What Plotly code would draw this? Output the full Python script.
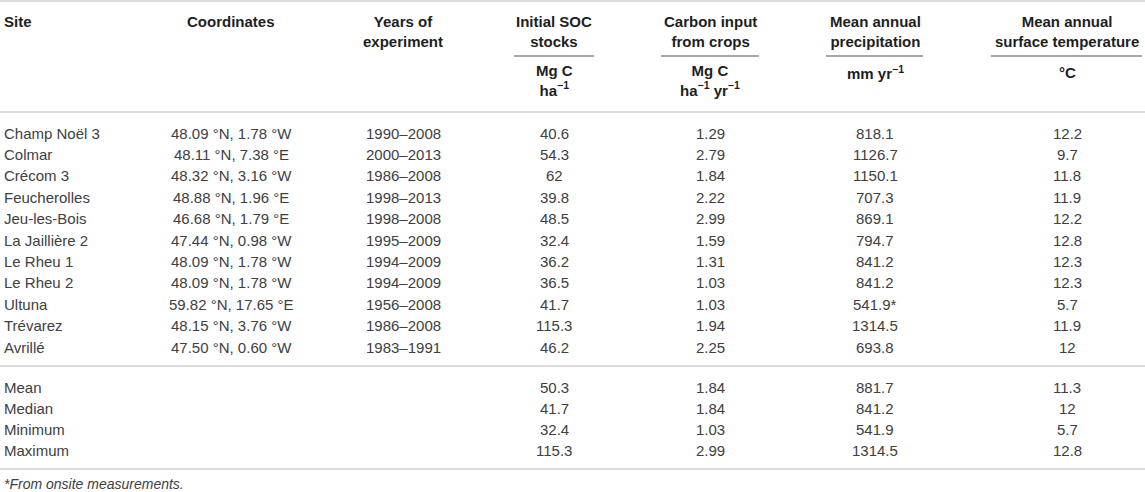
import plotly.graph_objects as go

# Site descriptions (table data)
sites = ["Champ Noël 3", "Colmar", "Crécom 3", "Feucherolles", "Jeu-les-Bois",
         "La Jaillière 2", "Le Rheu 1", "Le Rheu 2", "Ultuna", "Trévarez", "Avrillé"]
coords = ["48.09 °N, 1.78 °W", "48.11 °N, 7.38 °E", "48.32 °N, 3.16 °W",
          "48.88 °N, 1.96 °E", "46.68 °N, 1.79 °E", "47.44 °N, 0.98 °W",
          "48.09 °N, 1.78 °W", "48.09 °N, 1.78 °W", "59.82 °N, 17.65 °E",
          "48.15 °N, 3.76 °W", "47.50 °N, 0.60 °W"]
years = ["1990–2008", "2000–2013", "1986–2008", "1998–2013", "1998–2008",
         "1995–2009", "1994–2009", "1994–2009", "1956–2008", "1986–2008", "1983–1991"]
soc = [40.6, 54.3, 62, 39.8, 48.5, 32.4, 36.2, 36.5, 41.7, 115.3, 46.2]
carbon = [1.29, 2.79, 1.84, 2.22, 2.99, 1.59, 1.31, 1.03, 1.03, 1.94, 2.25]
precip = [818.1, 1126.7, 1150.1, 707.3, 869.1, 794.7, 841.2, 841.2, 541.9, 1314.5, 693.8]
precip_onsite = ["Ultuna"]
temp = [12.2, 9.7, 11.8, 11.9, 12.2, 12.8, 12.3, 12.3, 5.7, 11.9, 12]

stat_labels = ["Mean", "Median", "Minimum", "Maximum"]
stat_soc = [50.3, 41.7, 32.4, 115.3]
stat_carbon = [1.84, 1.84, 1.03, 2.99]
stat_precip = [881.7, 841.2, 541.9, 1314.5]
stat_temp = [11.3, 12, 5.7, 12.8]

headers = ["Site", "Coordinates", "Years of<br>experiment", "Initial SOC<br>stocks",
           "Carbon input<br>from crops", "Mean annual<br>precipitation",
           "Mean annual<br>surface temperature"]
units = ["", "", "", "Mg C<br>ha<sup>−1</sup>", "Mg C<br>ha<sup>−1</sup> yr<sup>−1</sup>",
         "mm yr<sup>−1</sup>", "°C"]
footnote = "*From onsite measurements."

# Layout (pixel space)
W, H = 1145, 492
FONT = "Liberation Sans, Arial, sans-serif"
TXT = "#404040"
HEAD = "#1e1e1e"
RULE = "#dcdcdc"
col_x = [2, 231, 403, 554, 710, 875, 1067]
underline_span = {3: (514, 594), 4: (661, 759), 5: (826, 923), 6: (991, 1142)}
row0, row_h = 133, 21.4
stat0, stat_h = 387, 21


def fmt(v):
    return f"{v:g}"


fig = go.Figure()
ann = []


def cell(x, y, text, col, bold=False, color=TXT, size=15, italic=False):
    left = col == 0
    t = f"<b>{text}</b>" if bold else text
    if italic:
        t = f"<i>{t}</i>"
    ann.append(dict(x=x, y=y, xref="x", yref="y", text=t, showarrow=False,
                    xanchor="left" if left else "center", yanchor="middle",
                    align="left" if left else "center",
                    font=dict(family=FONT, size=size, color=color)))


# header
for i, h in enumerate(headers):
    n = h.count("<br>")
    cell(col_x[i], 21 + 10.5 * n, h, i, bold=True, color=HEAD)
for i, u in enumerate(units):
    if u:
        n = u.count("<br>")
        cell(col_x[i], 72 + 8 * n, u, i, bold=True, color=HEAD)

# body
for r, s in enumerate(sites):
    y = row0 + r * row_h
    p = fmt(precip[r]) + ("*" if s in precip_onsite else "")
    vals = [s, coords[r], years[r], fmt(soc[r]), fmt(carbon[r]), p, fmt(temp[r])]
    for c, v in enumerate(vals):
        cell(col_x[c], y, v, c)

for r, lab in enumerate(stat_labels):
    y = stat0 + r * stat_h
    vals = [lab, "", "", fmt(stat_soc[r]), fmt(stat_carbon[r]),
            fmt(stat_precip[r]), fmt(stat_temp[r])]
    for c, v in enumerate(vals):
        if v:
            cell(col_x[c], y, v, c)

cell(2, 484, footnote, 0, italic=True, size=14)

# rules
shapes = []
for y in (1, 112, 366, 469):
    shapes.append(dict(type="line", x0=0, x1=W, y0=y, y1=y, xref="x", yref="y",
                       line=dict(color=RULE, width=2)))
for c, (a, b) in underline_span.items():
    shapes.append(dict(type="line", x0=a, x1=b, y0=56, y1=56, xref="x", yref="y",
                       line=dict(color="#8a8a8a", width=1.5)))

fig.update_layout(
    width=W, height=H,
    margin=dict(l=0, r=0, t=0, b=0),
    paper_bgcolor="white", plot_bgcolor="white",
    xaxis=dict(range=[0, W], visible=False, fixedrange=True),
    yaxis=dict(range=[H, 0], visible=False, fixedrange=True),
    annotations=ann, shapes=shapes, showlegend=False,
)

fig.write_html("out.html", config={"displayModeBar": False},
               post_script="document.body.style.margin='0';")
